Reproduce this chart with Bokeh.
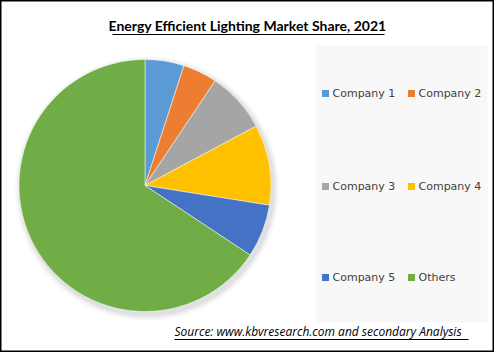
import numpy as np
from bokeh.plotting import figure
from bokeh.models import Range1d, ColumnDataSource
from bokeh.core.properties import value
from bokeh.embed import file_html
from bokeh.resources import INLINE

categories = ["Company 1", "Company 2", "Company 3", "Company 4", "Company 5", "Others"]
shares = [5.0, 4.4, 7.8, 10.3, 6.8, 65.7]
colors = ["#5B9BD5", "#ED7D31", "#A5A5A5", "#FFC000", "#4472C4", "#70AD47"]
title_text = "Energy Efficient Lighting Market Share, 2021"
source_text = "Source:  www.kbvresearch.com   and secondary Analysis"

W, H = 494, 352
p = figure(width=W, height=H, output_backend="svg", toolbar_location=None,
           x_range=Range1d(0, W), y_range=Range1d(0, H), min_border=0)
p.axis.visible = False
p.grid.visible = False
p.outline_line_color = "black"
p.outline_line_width = 2
p.background_fill_color = "white"
p.border_fill_color = "white"

def Y(py):
    return H - py

# legend panel background
p.quad(left=[315], right=[487], bottom=[Y(322)], top=[Y(45)], fill_color="#f8f8f8", line_color=None)

# pie shadow
cx, cy, r = 144.5, Y(185), 126
for k, a in [(6, 0.03), (4, 0.04), (2, 0.05)]:
    p.circle(x=[cx + 2], y=[cy - 3], radius=r + k, fill_color="black", fill_alpha=a, line_color=None)

vals = np.array(shares, dtype=float)
frac = vals / vals.sum()
cum = np.concatenate([[0], np.cumsum(frac)])
start = np.pi / 2 - cum[1:] * 2 * np.pi
end = np.pi / 2 - cum[:-1] * 2 * np.pi
src = ColumnDataSource(dict(cat=categories, start=start, end=end, color=colors))
p.wedge(x=cx, y=cy, radius=r, start_angle="start", end_angle="end", fill_color="color",
        line_color="white", line_width=0.5, source=src)

# title
p.text(x=[247], y=[Y(25)], text=[title_text], text_font=value("Lato"), text_font_style="bold",
       text_font_size="14px", text_align="center", text_baseline="middle", text_color="black")
p.segment(x0=[112], x1=[384], y0=[Y(34)], y1=[Y(34)], line_color="black", line_width=1)

# legend
col_x = [325, 411]
row_y = [93, 186, 277]
for i, (c, col) in enumerate(zip(categories, colors)):
    lx = col_x[i % 2]
    ly = row_y[i // 2]
    p.rect(x=[lx], y=[Y(ly)], width=7, height=7, fill_color=col, line_color=None)
    p.text(x=[lx + 7], y=[Y(ly)], text=[c], text_font=value("DejaVu Sans"), text_font_size="11px",
           text_align="left", text_baseline="middle", text_color="#404040")

# source
p.text(x=[174], y=[Y(331)], text=[source_text], text_font=value("Open Sans"), text_font_style="italic",
       text_font_size="12px", text_align="left", text_baseline="middle", text_color="black")
p.segment(x0=[174], x1=[468], y0=[Y(339)], y1=[Y(339)], line_color="black", line_width=1)

open("out.html", "w").write(file_html(p, INLINE))
